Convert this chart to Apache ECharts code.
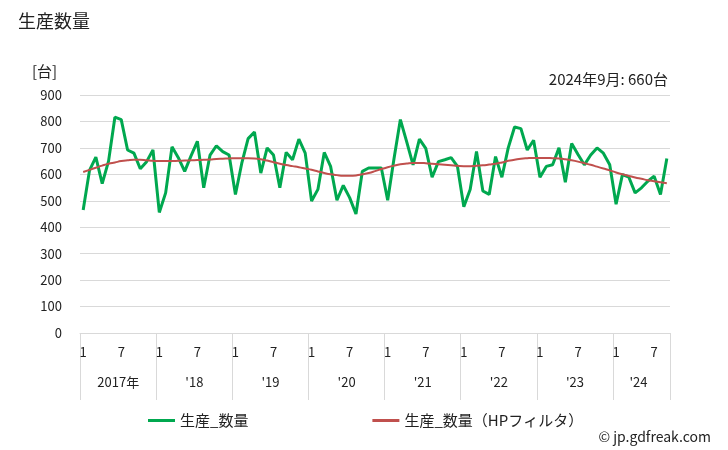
<!DOCTYPE html>
<html>
<head>
<meta charset="utf-8">
<script src="https://cdn.jsdelivr.net/npm/echarts@6/dist/echarts.min.js"></script>
<style>
  html, body { margin: 0; padding: 0; background: #fff; }
  #chart { width: 728px; height: 450px; }
</style>
</head>
<body>
<div id="chart"></div>
<script>
// 2017年1月〜2024年9月 の月次データ
var months = [];
for (var y = 2017; y <= 2024; y++) {
  for (var m = 1; m <= 12; m++) {
    if (y === 2024 && m > 9) break;
    months.push(y + '/' + m);
  }
}
var yearLabels = ['2017年', "'18", "'19", "'20", "'21", "'22", "'23", "'24"];

var production = [
  465, 615, 665, 565, 650, 816, 807, 692, 680, 621, 648, 692,
  456, 530, 704, 663, 611, 670, 725, 549, 673, 708, 686, 673,
  524, 642, 735, 760, 605, 700, 673, 549, 683, 655, 733, 680,
  499, 543, 683, 630, 502, 558, 512, 450, 611, 624, 624, 624,
  502, 660, 807, 723, 636, 733, 698, 589, 648, 655, 663, 630,
  477, 543, 686, 537, 524, 667, 589, 700, 779, 773, 692, 729,
  589, 630, 636, 700, 570, 717, 675, 636, 673, 700, 680, 636,
  487, 599, 590, 530, 549, 574, 593, 524, 660
];
var hpFilter = [
  609, 617, 625, 633, 640, 645, 650, 653, 655, 655, 653, 651,
  650, 650, 650, 651, 652, 653, 654, 655, 656, 658, 659, 660,
  661, 661, 661, 660, 657, 652, 646, 640, 635, 631, 627, 622,
  617, 611, 605, 600, 597, 595, 595, 596, 600, 605, 612, 620,
  627, 633, 638, 641, 643, 643, 642, 640, 638, 636, 634, 632,
  631, 631, 632, 634, 637, 640, 645, 651, 655, 659, 661, 662,
  662, 662, 661, 660, 657, 653, 648, 642, 636, 629, 622, 615,
  607, 600, 594, 588, 583, 578, 574, 570, 566
];

var font = '"Noto Sans CJK JP", "Noto Sans", sans-serif';
var chart = echarts.init(document.getElementById('chart'));

var option = {
  animation: false,
  textStyle: { fontFamily: font },
  title: [
    { text: '生産数量', left: 13, top: 7,
      textStyle: { fontSize: 18, fontWeight: 'normal', color: '#222', fontFamily: font } },
    { text: '[台]', left: 27, top: 59,
      textStyle: { fontSize: 15, fontWeight: 'normal', color: '#222', fontFamily: font } },
    { text: '2024年9月: 660台', right: 55, top: 67,
      textStyle: { fontSize: 15, fontWeight: 'normal', color: '#222', fontFamily: font } },
    { text: '© jp.gdfreak.com', right: 12, top: 425,
      textStyle: { fontSize: 14, fontWeight: 'normal', color: '#222', fontFamily: font } }
  ],
  legend: {
    left: 143,
    top: 408,
    itemGap: 124,
    itemWidth: 27,
    itemHeight: 3,
    icon: 'rect',
    textStyle: { fontSize: 15, color: '#222', fontFamily: font },
    data: ['生産_数量', '生産_数量（HPフィルタ）']
  },
  grid: { left: 80, right: 58, top: 95, bottom: 117 },
  xAxis: [
    {
      type: 'category',
      data: months,
      boundaryGap: true,
      axisLine: { lineStyle: { color: '#d9d9d9' } },
      axisTick: {
        show: true,
        length: 67,
        interval: function (i) { return i % 12 === 0; },
        lineStyle: { color: '#d9d9d9' }
      },
      axisLabel: {
        interval: function (i) { return i % 12 === 0 || i % 12 === 6; },
        formatter: function (v) { return v.split('/')[1]; },
        margin: 13,
        fontSize: 13,
        color: '#222'
      },
      splitLine: { show: false }
    },
    {
      type: 'category',
      data: months,
      position: 'bottom',
      boundaryGap: true,
      axisLine: { show: false },
      axisTick: { show: false },
      axisLabel: {
        interval: function (i) { return i === 88 || (i % 12 === 6 && i < 84); },
        formatter: function (v) { return yearLabels[parseInt(v.split('/')[0], 10) - 2017]; },
        margin: 43,
        padding: [0, 6, 0, 0],
        fontSize: 13,
        color: '#222'
      },
      splitLine: { show: false }
    }
  ],
  yAxis: {
    type: 'value',
    min: 0,
    max: 900,
    interval: 100,
    axisLine: { show: false },
    axisTick: { show: false },
    axisLabel: { margin: 18, fontSize: 13, color: '#222' },
    splitLine: { lineStyle: { color: '#d9d9d9' } }
  },
  series: [
    {
      name: '生産_数量',
      type: 'line',
      data: production,
      symbol: 'none',
      lineStyle: { color: '#00a84f', width: 3 },
      itemStyle: { color: '#00a84f' },
      z: 2
    },
    {
      name: '生産_数量（HPフィルタ）',
      type: 'line',
      data: hpFilter,
      symbol: 'none',
      smooth: true,
      lineStyle: { color: '#c0504d', width: 2 },
      itemStyle: { color: '#c0504d' },
      z: 3
    }
  ]
};

chart.setOption(option);
</script>
</body>
</html>
